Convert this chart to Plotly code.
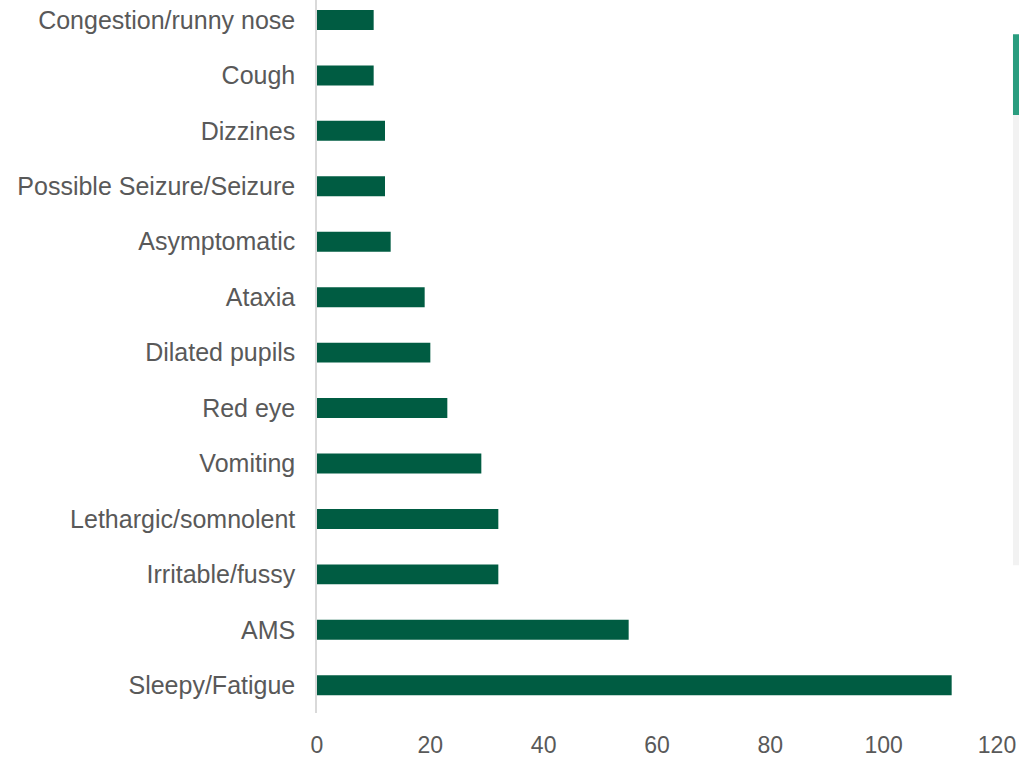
import plotly.graph_objects as go

categories = [
    "Sleepy/Fatigue", "AMS", "Irritable/fussy", "Lethargic/somnolent", "Vomiting",
    "Red eye", "Dilated pupils", "Ataxia", "Asymptomatic",
    "Possible Seizure/Seizure", "Dizzines", "Cough", "Congestion/runny nose",
]
values = [112, 55, 32, 32, 29, 23, 20, 19, 13, 12, 12, 10, 10]
x_ticks = [0, 20, 40, 60, 80, 100, 120]

BAR = "#005C42"
TXT = "#595959"

fig = go.Figure(go.Bar(
    x=values, y=categories, orientation="h",
    marker=dict(color=BAR, line=dict(width=0)),
    width=0.36,
))

fig.update_layout(
    width=1019, height=759,
    margin=dict(l=317, r=22, t=0, b=46, autoexpand=False),
    plot_bgcolor="white", paper_bgcolor="white",
    showlegend=False,
    font=dict(family="Liberation Sans, Arial, sans-serif", color=TXT, size=23),
    xaxis=dict(
        range=[0, 120], tickvals=x_ticks, showgrid=False, zeroline=False,
        showline=False, ticks="", ticklabelstandoff=16, automargin=False,
        tickfont=dict(size=23, color=TXT),
    ),
    yaxis=dict(
        type="category", categoryorder="array", categoryarray=categories,
        range=[-0.5, 12.36], showgrid=False, zeroline=False, automargin=False,
        showline=True, linecolor="#d9d9d9", linewidth=1.5, ticks="",
        ticklabelstandoff=15, tickfont=dict(size=25, color=TXT),
    ),
    shapes=[
        dict(type="rect", xref="paper", yref="paper", x0=1.0235, x1=1.04,
             y0=0.2072, y1=0.8386, fillcolor="#f2f2f2", line=dict(width=0), layer="below"),
        dict(type="rect", xref="paper", yref="paper", x0=1.0235, x1=1.04,
             y0=0.8386, y1=0.952, fillcolor="#2A9D7F", line=dict(width=0)),
    ],
)

fig.write_html(
    "out.html",
    config={"displayModeBar": False},
    post_script="document.body.style.margin='0px';document.body.style.overflow='hidden';",
)
